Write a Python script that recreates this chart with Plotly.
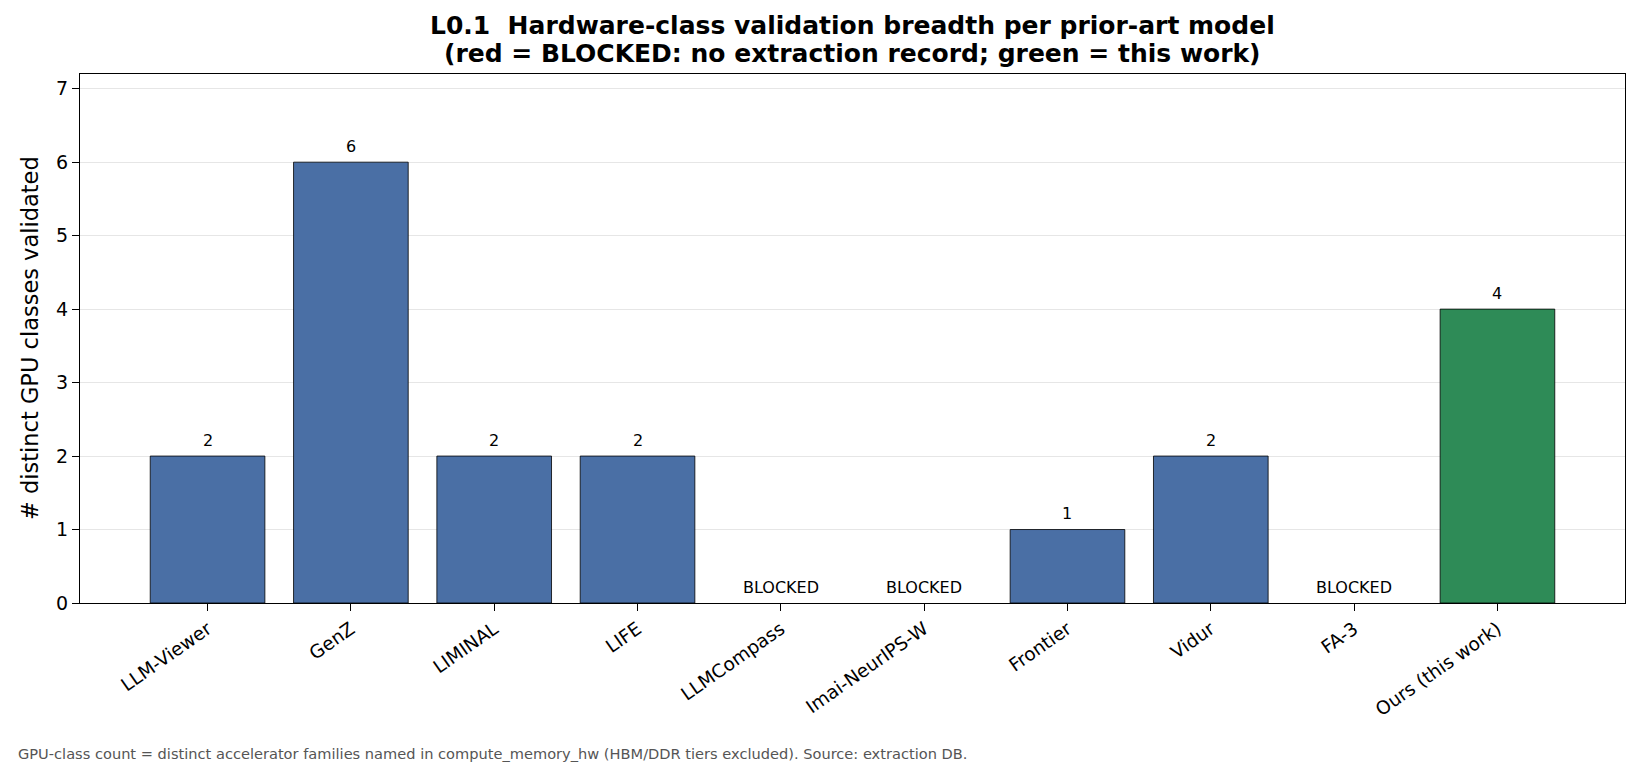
import plotly.graph_objects as go

categories = ["LLM-Viewer", "GenZ", "LIMINAL", "LIFE", "LLMCompass",
              "Imai-NeurIPS-W", "Frontier", "Vidur", "FA-3", "Ours (this work)"]
gpu_classes = [2, 6, 2, 2, None, None, 1, 2, None, 4]
status = ["ok", "ok", "ok", "ok", "blocked", "blocked", "ok", "ok", "blocked", "ours"]
title_lines = ["L0.1  Hardware-class validation breadth per prior-art model",
               "(red = BLOCKED: no extraction record; green = this work)"]

BLUE = "#4a6fa5"
GREEN = "#2e8b57"
RED = "#c0392b"
color_map = {"ok": BLUE, "ours": GREEN, "blocked": RED}
colors = [color_map[s] for s in status]

W, H = 1641, 778
L, R, T, B = 79.5, 1625.5, 74, 603
FONT = "DejaVu Sans"


def py(pix):
    return (B - pix) / (B - T)


def px(pix):
    return (pix - L) / (R - L)


fig = go.Figure()
fig.add_trace(go.Bar(
    x=list(range(len(categories))),
    y=gpu_classes,
    marker=dict(color=colors, line=dict(color="black", width=0.8)),
    width=0.8,
    hoverinfo="skip",
))

ann = []
for i, (v, s) in enumerate(zip(gpu_classes, status)):
    if s == "blocked":
        txt, yv = "BLOCKED", 0
    else:
        txt, yv = str(v), v
    ann.append(dict(x=i, y=yv + 0.1, xref="x", yref="y", text=txt,
                    showarrow=False, yanchor="bottom", xanchor="center",
                    yshift=-3,
                    font=dict(size=16, color="black", family=FONT)))

# title (two lines)
for line, ypix in zip(title_lines, [25.5, 53.5]):
    ann.append(dict(x=px(852.5), y=py(ypix), xref="paper", yref="paper",
                    text="<b>" + line + "</b>", showarrow=False,
                    xanchor="center", yanchor="middle",
                    font=dict(size=25, color="black", family=FONT)))

# y-axis label
ann.append(dict(x=px(29), y=0.5, xref="paper", yref="paper",
                text="# distinct GPU classes validated", textangle=-90,
                showarrow=False, xanchor="center", yanchor="middle",
                font=dict(size=22.5, color="black", family=FONT)))
# footer
ann.append(dict(x=px(15), y=py(753), xref="paper", yref="paper",
                text="GPU-class count = distinct accelerator families named in compute_memory_hw "
                     "(HBM/DDR tiers excluded). Source: extraction DB.",
                showarrow=False, xanchor="left", yanchor="middle",
                font=dict(size=14.6, color="#555555", family=FONT)))

fig.update_layout(
    width=W, height=H,
    margin=dict(l=L, r=W - R, t=T, b=H - B, pad=0),
    paper_bgcolor="white", plot_bgcolor="white",
    font=dict(family=FONT, color="black"),
    showlegend=False,
    annotations=ann,
    bargap=0.2,
)
fig.update_xaxes(
    range=[-0.89, 9.89],
    tickmode="array", tickvals=list(range(len(categories))), ticktext=categories,
    tickangle=-35, tickfont=dict(size=18.5, family=FONT, color="black"),
    showline=True, mirror=True, linecolor="black", linewidth=1.2,
    ticks="outside", ticklen=7, tickcolor="black", tickwidth=1.2,
    showgrid=False, zeroline=False,
)
fig.update_yaxes(
    range=[0, 7.2],
    tickmode="array", tickvals=list(range(8)),
    tickfont=dict(size=19, family=FONT, color="black"),
    showline=True, mirror=True, linecolor="black", linewidth=1.2,
    ticks="outside", ticklen=7, tickcolor="black", tickwidth=1.2,
    showgrid=True, gridcolor="#e6e6e6", gridwidth=1,
    zeroline=False,
)

fig.write_html("out.html")
